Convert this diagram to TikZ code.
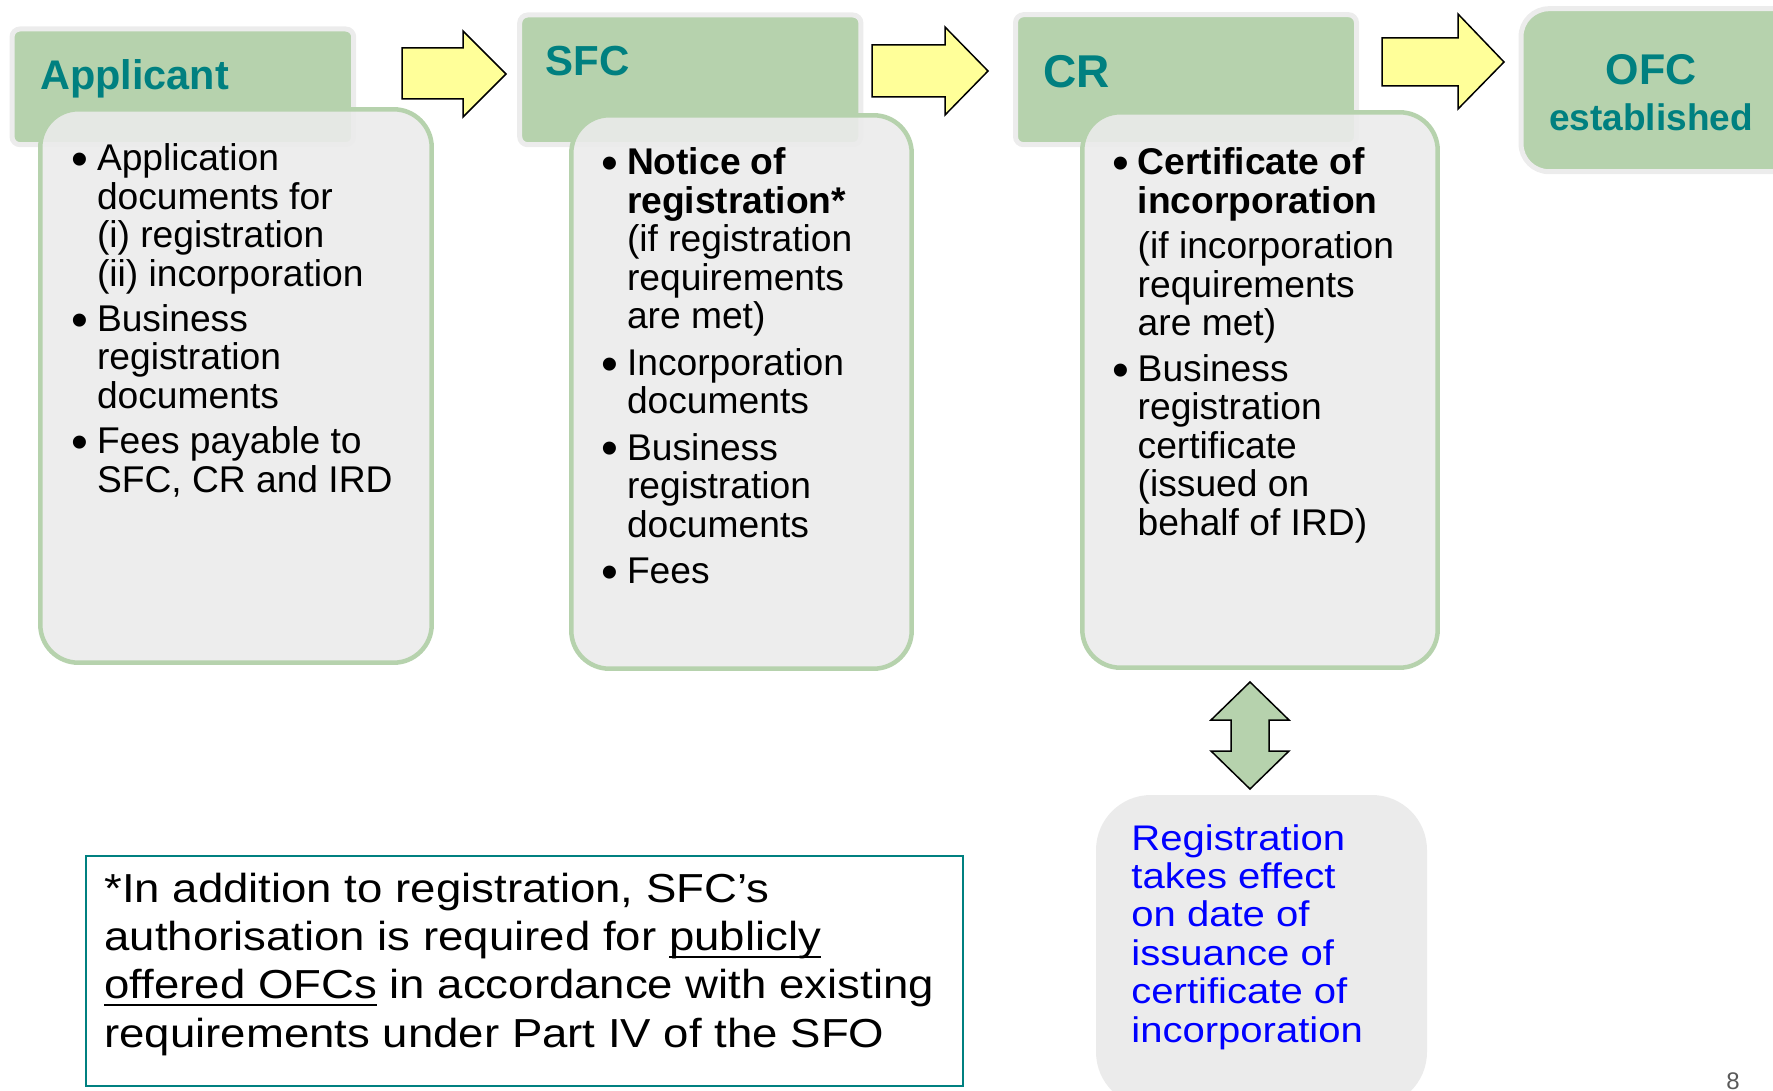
\documentclass[tikz,border=0pt]{standalone}
\usepackage{fontspec}
\setmainfont{Liberation Sans}
\newfontfamily\widesans[FakeStretch=1.125]{Liberation Sans}

\definecolor{hdrgreen}{RGB}{182,210,173}
\definecolor{hdrteal}{RGB}{0,128,128}
\definecolor{boxgray}{RGB}{235,235,235}
\definecolor{ringgray}{RGB}{236,236,236}
\definecolor{arrowyellow}{RGB}{255,255,153}
\newcommand\uln[1]{\setbox0\hbox{#1}\rlap{\rule[-3.7pt]{\wd0}{1pt}}\box0\relax}
\newcommand\bul{\raisebox{-2.4pt}{\fontsize{24}{19}\selectfont\textbullet}}

\begin{document}
\begin{tikzpicture}[x=0.5pt,y=-0.5pt]
	\tikzstyle{head}=[fill=hdrgreen,draw=ringgray,line width=2.5pt,rounded corners=4pt]
	\tikzstyle{body}=[fill=boxgray,fill opacity=0.9,draw=hdrgreen,line width=2.25pt,rounded corners=19pt]
	\tikzstyle{yarrow}=[fill=arrowyellow,draw=black,line width=0.75pt]
	\tikzstyle{garrow}=[fill=hdrgreen,draw=black,line width=0.75pt]
	\tikzstyle{title}=[anchor=base west,inner sep=0pt,text=hdrteal,font=\bfseries\fontsize{20.7}{24}\selectfont]
	\tikzstyle{items}=[anchor=base west,inner sep=0pt,font=\fontsize{18.6}{19.15}\selectfont]
	\useasboundingbox (0,0) rectangle (1773,1091);
	\clip (0,0) rectangle (1773,1091);
	
	\draw[head] (12,29) rectangle (353.7,144.7);
	\draw[head] (519.7,15) rectangle (860.9,144.7);
	\draw[head] (1015.5,14.7) rectangle (1356.5,144.7);
	\draw[head,rounded corners=14pt] (1521,8.7) rectangle (1800,171.7);
	
	\draw[body] (40.3,109.3) rectangle (431.7,662.7);
	\draw[body] (571.3,115.3) rectangle (911.7,668.7);
	\draw[body] (1082.3,112.3) rectangle (1437.7,667.7);
	
	\draw[yarrow] (402,48) -- (463,48) -- (463,31) -- (506,74) -- (463,117) -- (463,99) -- (402,99) -- cycle;
	\draw[yarrow] (872,45) -- (945,45) -- (945,27) -- (988,71) -- (945,115) -- (945,97) -- (872,97) -- cycle;
	\draw[yarrow] (1382,38) -- (1458,38) -- (1458,14) -- (1504,62) -- (1458,109) -- (1458,86) -- (1382,86) -- cycle;
	\draw[garrow] (1250,682) -- (1289,720) -- (1269,720) -- (1269,751) -- (1289,751) -- (1250,789) -- (1211,751) -- (1231,751) -- (1231,720) -- (1211,720) -- cycle;
	
	\fill[boxgray,rounded corners=27.5pt] (1096,795) rectangle (1427,1107);
	\draw[hdrteal,line width=1pt] (86,856) rectangle (963,1086);
	
	\node[title] (applicant) at (40,90) {Applicant};
	\node[title,font=\bfseries\fontsize{21}{24}\selectfont] (sfc) at (545,76) {SFC};
	\node[title,font=\bfseries\fontsize{23}{26}\selectfont] (cr) at (1043,88) {CR};
	\node[title,anchor=base,font=\bfseries\fontsize{21.5}{24}\selectfont] (ofc) at (1651,85) {OFC};
	\node[title,anchor=base,font=\bfseries\fontsize{18.5}{22}\selectfont] (established) at (1651,131) {established};
	
	\node[items] (appitems) at (71,170.7) {\begin{tabular}[t]{@{}p{12.8pt}@{}l@{}}
		\bul & Application\\
		& documents for\\
		& (i) registration\\
		& (ii) incorporation\\[3.5pt]
		\bul & Business\\
		& registration\\
		& documents\\[3.5pt]
		\bul & Fees payable to\\
		& SFC, CR and IRD
	\end{tabular}};
	\node[items] (sfcitems) at (601,175) {\begin{tabular}[t]{@{}p{12.8pt}@{}l@{}}
		\bul & \textbf{Notice of}\\
		& \textbf{registration*}\\
		& (if registration\\
		& requirements\\
		& are met)\\[4pt]
		\bul & Incorporation\\
		& documents\\[4pt]
		\bul & Business\\
		& registration\\
		& documents\\[4pt]
		\bul & Fees
	\end{tabular}};
	\node[items] (critems) at (1111.7,175) {\begin{tabular}[t]{@{}p{12.8pt}@{}l@{}}
		\bul & \textbf{Certificate of}\\
		& \textbf{incorporation}\\[3.5pt]
		& (if incorporation\\
		& requirements\\
		& are met)\\[3.5pt]
		\bul & Business\\
		& registration\\
		& certificate\\
		& (issued on\\
		& behalf of IRD)
	\end{tabular}};
	
	\node[items,text=blue,font=\widesans\fontsize{17.8}{19.2}\selectfont] (effect) at (1131,850) {\begin{tabular}[t]{@{}l@{}}
		Registration\\
		takes effect\\
		on date of\\
		issuance of\\
		certificate of\\
		incorporation
	\end{tabular}};
	\node[items,font=\widesans\fontsize{20.25}{24.15}\selectfont] (note) at (104,902.3) {\begin{tabular}[t]{@{}l@{}}
		*In addition to registration, SFC’s\\
		authorisation is required for \uln{publicly}\\
		\uln{offered OFCs} in accordance with existing\\
		requirements under Part IV of the SFO
	\end{tabular}};
	\node[anchor=base,inner sep=0pt,text=black!65,font=\fontsize{12}{14}\selectfont] (pagenum) at (1733,1089) {8};
\end{tikzpicture}
\end{document}
